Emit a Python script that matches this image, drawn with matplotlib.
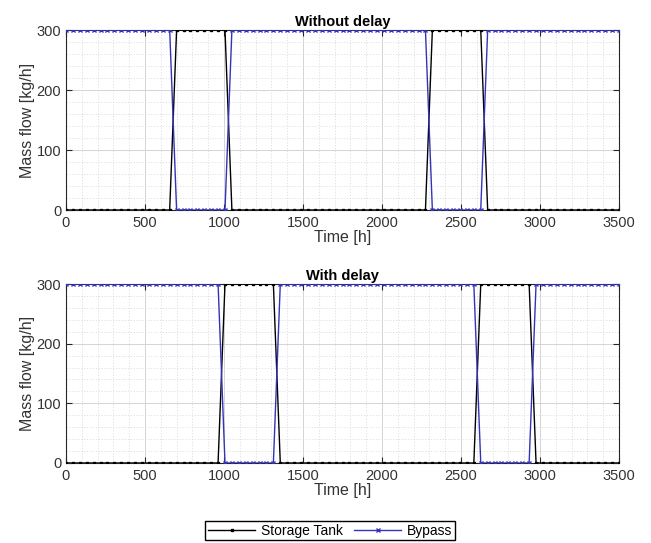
import numpy as np
import matplotlib
matplotlib.use("Agg")
import matplotlib.pyplot as plt
from matplotlib.ticker import MultipleLocator

plt.rcParams['font.family'] = ['Liberation Sans', 'DejaVu Sans']

# Time grid (h)
time = np.linspace(0, 3500, 81)

# Mass flow [kg/h] (one value per marker)
tank_without = ([0]*16 + [300]*8 + [0]*29 + [300]*8 + [0]*20)
bypass_without = ([300]*16 + [0]*8 + [300]*29 + [0]*8 + [300]*20)
tank_with = ([0]*23 + [300]*8 + [0]*29 + [300]*8 + [0]*13)
bypass_with = ([300]*23 + [0]*8 + [300]*29 + [0]*8 + [300]*13)

titles = ["Without delay", "With delay"]
series = [(tank_without, bypass_without), (tank_with, bypass_with)]
labels = ["Storage Tank", "Bypass"]
xticks = [0, 500, 1000, 1500, 2000, 2500, 3000, 3500]
yticks = [0, 100, 200, 300]

fig = plt.figure(figsize=(6.51, 5.43), dpi=100)
rects = [[66/651, 1-210/543, 553/651, 180/543],
         [66/651, 1-463/543, 553/651, 179/543]]

blue = (0.2, 0.2, 0.72)
txt = '#333333'
handles = None
for rect, title, (tank, byp) in zip(rects, titles, series):
    ax = fig.add_axes(rect)
    h1, = ax.plot(time, tank, color='black', lw=1.0, marker='s', ms=2.0,
                  mfc='black', mec='black', label=labels[0], zorder=3)
    h2, = ax.plot(time, byp, color=blue, lw=1.0, marker='x', ms=3.2,
                  mew=1.0, mfc=blue, mec=blue, label=labels[1], zorder=3)
    handles = [h1, h2]
    ax.set_xlim(0, 3500)
    ax.set_ylim(0, 300)
    ax.set_xticks(xticks)
    ax.set_yticks(yticks)
    ax.xaxis.set_minor_locator(MultipleLocator(100))
    ax.yaxis.set_minor_locator(MultipleLocator(20))
    ax.grid(True, which='major', color='#d4d4d4', lw=0.7, ls='-')
    ax.grid(True, which='minor', color='#dcdcdc', lw=0.6, ls=(0, (1.5, 2)))
    ax.set_axisbelow(True)
    ax.tick_params(which='both', direction='in', top=True, right=True,
                   labelsize=10.5, colors='#262626', labelcolor=txt)
    ax.tick_params(axis='x', pad=4)
    ax.tick_params(which='major', length=4)
    ax.tick_params(which='minor', length=0)
    for s in ax.spines.values():
        s.set_color('#262626')
        s.set_linewidth(0.8)
    ax.set_title(title, fontsize=10.5, fontweight='bold', pad=3)
    ax.set_xlabel("Time [h]", fontsize=11.5, color=txt, labelpad=0)
    ax.set_ylabel("Mass flow [kg/h]", fontsize=11.5, color=txt, labelpad=1)

fig.legend(handles, labels, loc='lower center', bbox_to_anchor=(0.507, -0.008),
           ncol=2, fontsize=10, frameon=True, fancybox=False, edgecolor='black',
           handlelength=3.4, handletextpad=0.4, columnspacing=0.8,
           borderpad=0.2, framealpha=1)

fig.savefig("out.png", dpi=100)
